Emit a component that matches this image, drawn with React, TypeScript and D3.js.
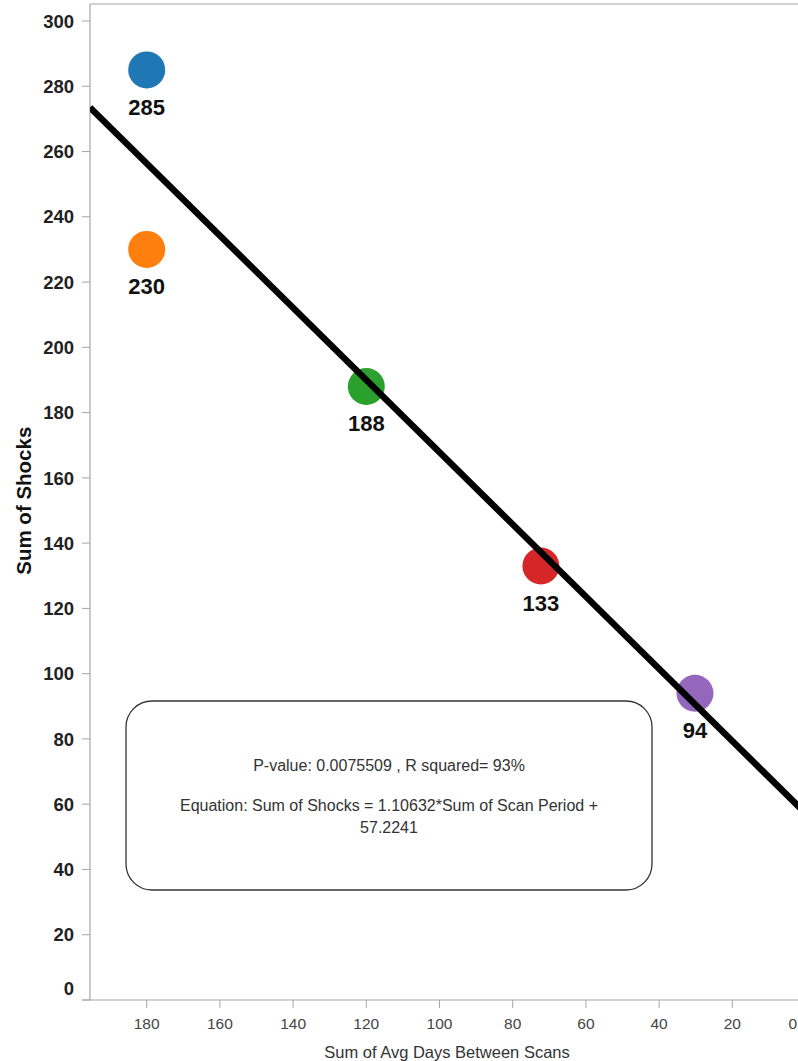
import React from "react";
import * as d3 from "d3";

// Scan interval (days) vs. number of shocks, one point per group
const groups = ["A", "B", "C", "D", "E"];
const avgDays = [180, 180, 120, 72.3, 30.2];
const shocks = [285, 230, 188, 133, 94];
const colors = ["#1f77b4", "#ff7f0e", "#2ca02c", "#d62728", "#9467bd"];

const yTicks = [0, 20, 40, 60, 80, 100, 120, 140, 160, 180, 200, 220, 240, 260, 280, 300];
const xTicks = [180, 160, 140, 120, 100, 80, 60, 40, 20, 0];

// Fitted trend: shocks = slope * days + intercept
const slope = 1.10632;
const intercept = 57.2241;

const W = 798;
const H = 1061;
const plotLeft = 90;
const plotTop = 4;
const plotBottom = 1000;

export default function App() {
  const x = d3.scaleLinear().domain([180, 0]).range([146.7, 805.5]);
  const y = d3.scaleLinear().domain([0, 300]).range([1000, 21]);

  const xMin = x.invert(W + 10);
  const xMax = x.invert(plotLeft);
  const trend = d3
    .line<number>()
    .x((d) => x(d))
    .y((d) => y(slope * d + intercept))([xMax, xMin]);

  const axisColor = "#a6a6a6";

  return (
    <svg
      width={W}
      height={H}
      style={{ position: "absolute", left: 0, top: 0, background: "#fff" }}
      fontFamily="'Liberation Sans', Arial, sans-serif"
    >
      <defs>
        <clipPath id="plot">
          <rect x={plotLeft} y={plotTop} width={W - plotLeft} height={plotBottom - plotTop} />
        </clipPath>
      </defs>

      {/* frame */}
      <line x1={plotLeft} x2={W} y1={plotTop} y2={plotTop} stroke={axisColor} strokeWidth={1.2} />
      <line x1={plotLeft} x2={plotLeft} y1={plotTop} y2={plotBottom} stroke={axisColor} strokeWidth={1.2} />
      <line x1={82} x2={W} y1={plotBottom} y2={plotBottom} stroke={axisColor} strokeWidth={1.2} />

      {/* y axis */}
      {yTicks.map((t) => (
        <g key={`y${t}`}>
          <line x1={82} x2={plotLeft} y1={y(t)} y2={y(t)} stroke={axisColor} strokeWidth={1} />
          <text
            x={74}
            y={y(t) - (t === 0 ? 12 : 0)}
            dy="0.36em"
            textAnchor="end"
            fontSize={18.5}
            fontWeight="bold"
            fill="#222"
          >
            {t}
          </text>
        </g>
      ))}
      <text
        transform={`translate(31,${y(153)}) rotate(-90)`}
        textAnchor="middle"
        fontSize={20.5}
        fontWeight="bold"
        fill="#111"
      >
        Sum of Shocks
      </text>

      {/* x axis */}
      {xTicks.map((t) => {
        const px = x(t);
        const edge = px + 5 > W;
        return (
          <g key={`x${t}`}>
            <line x1={px} x2={px} y1={plotBottom} y2={plotBottom + 8} stroke={axisColor} strokeWidth={1} />
            <text
              x={edge ? W - 1 : px}
              y={1029}
              textAnchor={edge ? "end" : "middle"}
              fontSize={15.5}
              fill="#444"
            >
              {t}
            </text>
          </g>
        );
      })}
      <text x={447} y={1058} textAnchor="middle" fontSize={16.5} fill="#333">
        Sum of Avg Days Between Scans
      </text>

      <g clipPath="url(#plot)">
        {/* points */}
        {groups.map((g, i) => (
          <circle key={g} cx={x(avgDays[i])} cy={y(shocks[i])} r={18.5} fill={colors[i]} />
        ))}
        {/* trend line */}
        <path d={trend ?? ""} stroke="#000" strokeWidth={6.5} fill="none" />
        {/* value labels */}
        {groups.map((g, i) => (
          <text
            key={`l${g}`}
            x={x(avgDays[i])}
            y={y(shocks[i]) + 45}
            textAnchor="middle"
            fontSize={22}
            fontWeight="bold"
            fill="#111"
          >
            {shocks[i]}
          </text>
        ))}
      </g>

      {/* regression summary */}
      <rect x={126} y={701} width={526} height={189} rx={26} ry={26} fill="#fff" stroke="#333" strokeWidth={1.3} />
      <g fontSize={16} fill="#333" textAnchor="middle">
        <text x={389} y={771}>P-value: 0.0075509 , R squared= 93%</text>
        <text x={389} y={811}>Equation: Sum of Shocks = 1.10632*Sum of Scan Period +</text>
        <text x={389} y={833}>57.2241</text>
      </g>
    </svg>
  );
}
